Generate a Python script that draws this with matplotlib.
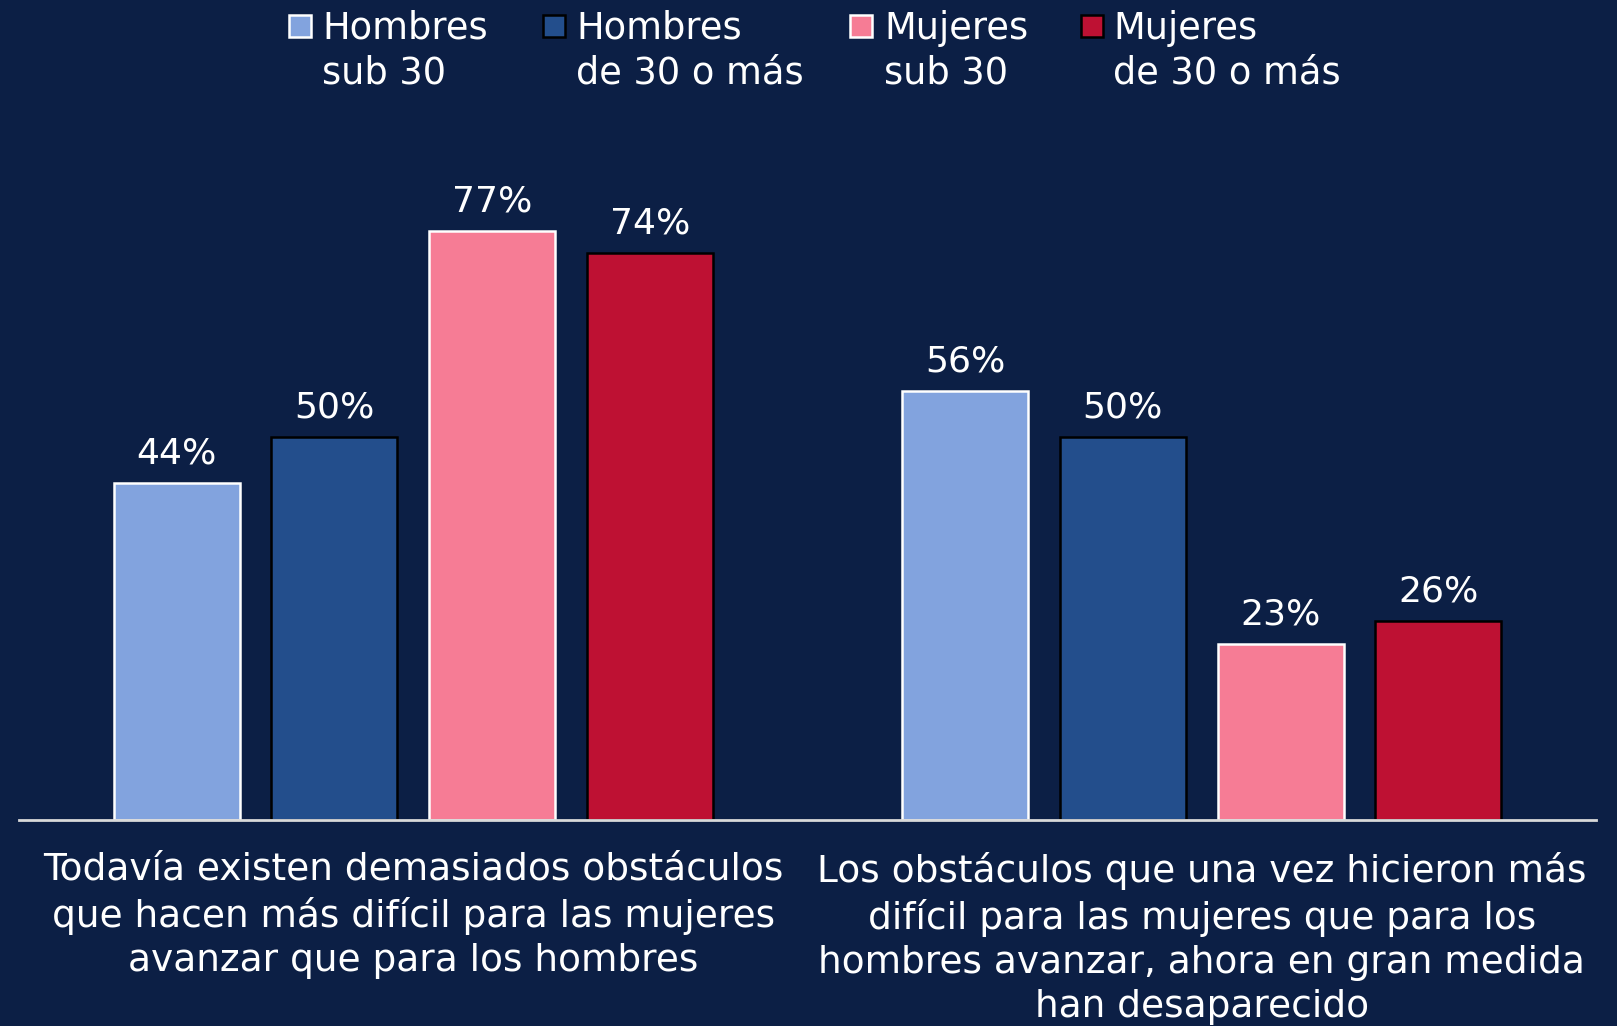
import matplotlib
matplotlib.use("Agg")
import matplotlib.pyplot as plt
from matplotlib.patches import Rectangle
import numpy as np

plt.rcParams['font.family'] = ['DejaVu Sans']

categories = [
    "Todavía existen demasiados obstáculos\nque hacen más difícil para las mujeres\navanzar que para los hombres",
    "Los obstáculos que una vez hicieron más\ndifícil para las mujeres que para los\nhombres avanzar, ahora en gran medida\nhan desaparecido",
]
series_names = ["Hombres\nsub 30", "Hombres\nde 30 o más", "Mujeres\nsub 30", "Mujeres\nde 30 o más"]
hombres_sub30 = [44, 56]
hombres_30mas = [50, 50]
mujeres_sub30 = [77, 23]
mujeres_30mas = [74, 26]
series_values = [hombres_sub30, hombres_30mas, mujeres_sub30, mujeres_30mas]

colors = ['#82a3de', '#234e8c', '#f67c95', '#be1133']
edges = ['white', 'black', 'white', 'black']
bg = '#0c1f45'

W, H = 1617, 1026
fig = plt.figure(figsize=(W / 100, H / 100), dpi=100, facecolor=bg)
ax_left, ax_right = 19 / W, 1596 / W
ax_bottom = 1 - 820 / H
ax_top = 1 - 131 / H
ax = fig.add_axes([ax_left, ax_bottom, ax_right - ax_left, ax_top - ax_bottom])
ax.set_facecolor(bg)

x = np.arange(len(categories))
slot = 0.2
width = 0.16
for i, vals in enumerate(series_values):
    pos = x + (i - 1.5) * slot
    bars = ax.bar(pos, vals, width=width, color=colors[i], edgecolor=edges[i], linewidth=1.8, zorder=2)
    ax.bar_label(bars, labels=[f"{v}%" for v in vals], padding=9, color='white', fontsize=26)

ax.set_xlim(-0.5, 1.5)
ax.set_ylim(0, 90)
for s in ['top', 'left', 'right']:
    ax.spines[s].set_visible(False)
ax.spines['bottom'].set_color('#d9d9d9')
ax.spines['bottom'].set_linewidth(2)
ax.spines['bottom'].set_zorder(3)
ax.set_yticks([])
ax.set_xticks(x)
ax.set_xticklabels(categories, color='white', fontsize=27, linespacing=1.29)
ax.tick_params(axis='x', length=0, pad=23)

# legend (manual, handle aligned with first line)
handle_x = [289, 543, 850, 1081]
text_x = [322, 576, 884, 1113]
sq = 22
for i, name in enumerate(series_names):
    fig.patches.append(Rectangle((handle_x[i] / W, 1 - 37 / H), sq / W, sq / H,
                                 transform=fig.transFigure, facecolor=colors[i],
                                 edgecolor=edges[i], linewidth=1.8))
    fig.text(text_x[i] / W, 1 - 84 / H, name, color='white', fontsize=26.5,
             ha='left', va='baseline', linespacing=1.28)

fig.savefig("out.png", dpi=100, facecolor=bg)
